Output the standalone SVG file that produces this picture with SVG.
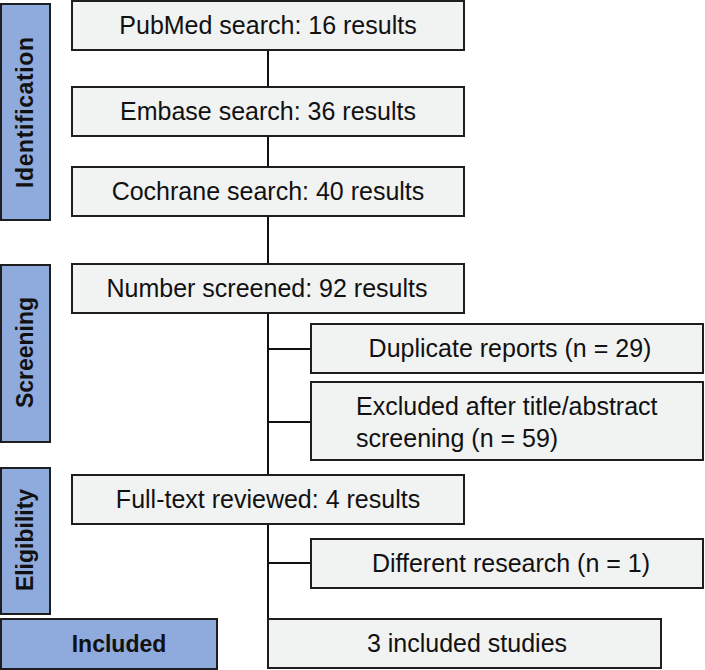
<svg xmlns="http://www.w3.org/2000/svg" width="705" height="670" viewBox="0 0 705 670">
<style>
.box{fill:#F1F2F2;stroke:#1E1E1E;stroke-width:2}
.lab{fill:#8FAADC;stroke:#1E1E1E;stroke-width:2}
.t{font-family:"Liberation Sans",Arial,sans-serif;font-size:25px;fill:#111;text-anchor:middle}
.tl{font-family:"Liberation Sans",Arial,sans-serif;font-size:25px;fill:#111}
.b{font-family:"Liberation Sans",Arial,sans-serif;font-size:23px;font-weight:bold;fill:#111;text-anchor:middle}
.c{fill:none;stroke:#111;stroke-width:2}
</style>
<rect width="705" height="670" fill="#FFFFFF"/>
<g id="connectors">
<path class="c" d="M268 50V87M268 136V167M268 216V264M268 313V475M268 349H311M268 422H311M268 524V619M268 563H311"/>
</g>
<g id="label-identification">
<rect class="lab" x="1" y="4" width="49" height="216"/>
<text class="b" transform="translate(33,112.5) rotate(-90)" textLength="151">Identification</text>
</g>
<g id="label-screening">
<rect class="lab" x="1" y="265" width="49" height="177"/>
<text class="b" transform="translate(33,352.5) rotate(-90)">Screening</text>
</g>
<g id="label-eligibility">
<rect class="lab" x="1" y="468" width="49" height="146"/>
<text class="b" transform="translate(33,540) rotate(-90)">Eligibility</text>
</g>
<g id="label-included">
<rect class="lab" x="1" y="619" width="216" height="50"/>
<text class="b" x="119" y="652">Included</text>
</g>
<g id="pubmed">
<rect class="box" x="72" y="1" width="392" height="49"/>
<text class="t" x="268" y="34">PubMed search: 16 results</text>
</g>
<g id="embase">
<rect class="box" x="72" y="87" width="392" height="49"/>
<text class="t" x="268" y="120">Embase search: 36 results</text>
</g>
<g id="cochrane">
<rect class="box" x="72" y="167" width="392" height="49"/>
<text class="t" x="268" y="200">Cochrane search: 40 results</text>
</g>
<g id="screened">
<rect class="box" x="72" y="264" width="392" height="49"/>
<text class="t" x="267" y="297">Number screened: 92 results</text>
</g>
<g id="duplicates">
<rect class="box" x="311" y="324" width="392" height="49"/>
<text class="t" x="510" y="357">Duplicate reports (n = 29)</text>
</g>
<g id="excluded">
<rect class="box" x="311" y="382" width="392" height="78"/>
<text class="tl" x="356" y="415">Excluded after title/abstract</text>
<text class="tl" x="356" y="447">screening (n = 59)</text>
</g>
<g id="fulltext">
<rect class="box" x="72" y="475" width="392" height="49"/>
<text class="t" x="268" y="508">Full-text reviewed: 4 results</text>
</g>
<g id="different">
<rect class="box" x="311" y="539" width="392" height="49"/>
<text class="t" x="511" y="572">Different research (n = 1)</text>
</g>
<g id="included-studies">
<rect class="box" x="268" y="619" width="393" height="49"/>
<text class="t" x="467" y="652">3 included studies</text>
</g>
</svg>
